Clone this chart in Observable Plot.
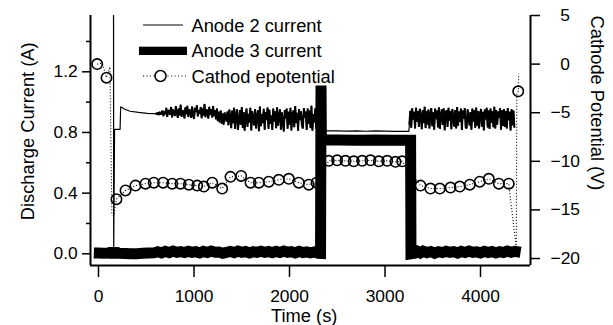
<!DOCTYPE html>
<html>
<head>
<meta charset="utf-8">
<script src="https://cdn.jsdelivr.net/npm/d3@7"></script>
<script src="https://cdn.jsdelivr.net/npm/@observablehq/plot@0.6"></script>
<style>
  html, body { margin: 0; padding: 0; background: #fff; }
  #wrap { position: relative; width: 613px; height: 325px; }
  #legend { position: absolute; left: 0; top: 0; pointer-events: none; }
</style>
</head>
<body>
<div id="wrap"></div>
<script>
// ---------- data ----------
const xTicks = [0, 1000, 2000, 3000, 4000];
const yTicksMajor = [0, 0.4, 0.8, 1.2];
const yTicksMinor = [0.2, 0.6, 1.0, 1.4];
const vTicks = [5, 0, -5, -10, -15, -20];
const xLabel = "Time (s)";
const yLabel = "Discharge Current (A)";
const vLabel = "Cathode Potential (V)";
const legendLabels = ["Anode 2 current", "Anode 3 current", "Cathod epotential"];

// Anode 2 current: explicit points
const anode2Lead = [[157, 2.0], [159, 0.01], [168, 0.82], [226, 0.82], [232, 0.97], [270, 0.955], [330, 0.94], [420, 0.932], [510, 0.926], [590, 0.924]];
const noiseStep = 10;
const noise1Start = 600;
const anode2Noise1 = [
0.926,0.921,0.932,0.915,0.936,0.918,0.929,0.944,0.908,0.940,
0.921,0.962,0.903,0.948,0.935,0.917,0.968,0.899,0.952,0.925,
0.909,0.974,0.931,0.896,0.958,0.912,0.983,0.904,0.945,0.938,
0.893,0.966,0.921,0.976,0.902,0.951,0.944,0.897,0.971,0.915,
0.889,0.962,0.934,0.979,0.906,0.947,0.923,0.968,0.894,0.957,
0.912,0.988,0.901,0.953,0.938,0.892,0.969,0.917,0.952,0.899,
0.974,0.908,0.946,0.887,0.958,0.874,0.937,0.866,0.944,0.858,
0.925,0.852,0.931,0.905];
const noise2Start = 1340;
const anode2Noise2 = [
0.872,0.938,0.848,0.951,0.893,0.829,0.944,0.861,0.962,0.823,
0.915,0.952,0.817,0.876,0.947,0.851,0.968,0.829,0.934,0.811,
0.902,0.958,0.838,0.923,0.866,0.963,0.814,0.941,0.889,0.847,
0.955,0.826,0.908,0.946,0.809,0.971,0.842,0.921,0.861,0.956,
0.818,0.935,0.882,0.964,0.824,0.949,0.858,0.912,0.816,0.958,
0.873,0.939,0.828,0.966,0.845,0.903,0.952,0.819,0.933,0.869,
0.807,0.948,0.892,0.957,0.825,0.936,0.851,0.963,0.813,0.918,
0.944,0.834,0.974,0.862,0.929,0.811,0.955,0.881,0.940,0.847,
0.826,0.961,0.897,0.938,0.817,0.958,0.856,0.945,0.829,0.976,
0.812,0.921,0.866,0.959,0.823,0.942,0.853,0.964,0.835];
const anode2Plateau = [[2335, 0.812], [2400, 0.810], [2500, 0.811], [2600, 0.809], [2700, 0.810], [2800, 0.808], [2900, 0.810], [3000, 0.809], [3100, 0.807], [3200, 0.808], [3250, 0.807]];
const noise3Start = 3255;
const anode2Noise3 = [
0.852,0.943,0.831,0.959,0.884,0.936,0.826,0.963,0.871,0.941,
0.836,0.956,0.907,0.821,0.948,0.862,0.969,0.829,0.939,0.853,
0.951,0.827,0.915,0.961,0.841,0.933,0.818,0.957,0.888,0.945,
0.833,0.966,0.824,0.912,0.952,0.849,0.959,0.815,0.927,0.946,
0.837,0.963,0.876,0.942,0.821,0.955,0.899,0.839,0.948,0.826,
0.967,0.845,0.938,0.869,0.957,0.817,0.944,0.891,0.961,0.832,
0.828,0.953,0.906,0.847,0.935,0.819,0.958,0.873,0.946,0.831,
0.965,0.844,0.941,0.827,0.919,0.955,0.838,0.937,0.814,0.951,
0.886,0.962,0.833,0.945,0.823,0.957,0.864,0.941,0.835,0.969,
0.827,0.948,0.851,0.938,0.897,0.959,0.818,0.946,0.843,0.954,
0.836,0.942,0.826,0.961,0.881,0.936,0.813,0.953,0.848,0.944,
0.832];

// Anode 3 current
const anode3 = [
[-49,0.006],[0,0.005],[50,0.004],[100,0.005],[150,0.005],[154,0.042],[160,-0.03],[166,0.04],[172,0.004],
[220,0.003],[280,0.002],[340,0.0],[400,0.001],[460,0.003],[520,0.005],[580,0.006],
[620,0.014],[660,0.006],[700,0.016],[740,0.008],[780,0.018],[820,0.010],[860,0.015],[900,0.008],[940,0.017],[980,0.010],
[1020,0.014],[1060,0.006],[1100,0.016],[1140,0.009],[1180,0.018],[1220,0.010],[1260,0.012],[1300,0.004],[1340,0.010],[1380,0.016],
[1420,0.008],[1460,0.018],[1500,0.010],[1540,0.015],[1580,0.006],[1620,0.014],[1660,0.009],[1700,0.017],[1740,0.010],[1780,0.015],
[1820,0.007],[1860,0.016],[1900,0.009],[1940,0.018],[1980,0.010],[2020,0.014],[2060,0.006],[2100,0.016],[2140,0.008],[2180,0.013],
[2220,0.006],[2260,0.012],[2300,0.004],[2325,0.003],
[2330,1.11],[2334,0.75],[2500,0.751],[2700,0.749],[2900,0.750],[3100,0.748],[3268,0.749],[3272,0.0],
[3310,0.004],[3340,0.016],[3370,0.006],[3400,0.018],[3440,0.008],[3480,0.015],[3520,0.004],[3560,0.014],[3600,0.008],[3640,0.017],
[3680,0.010],[3720,0.014],[3760,0.005],[3800,0.016],[3840,0.009],[3880,0.018],[3920,0.010],[3960,0.013],[4000,0.006],[4040,0.016],
[4080,0.008],[4120,0.015],[4160,0.006],[4200,0.014],[4240,0.009],[4280,0.018],[4320,0.010],[4360,0.016],[4400,0.012],[4420,0.010]];

// Cathode potential (V): marker points
const cathodeMarks = [
[-14,0.0],[84,-1.4],[188,-13.9],[283,-13.0],[387,-12.5],[492,-12.3],[579,-12.2],[677,-12.2],[772,-12.3],[859,-12.3],
[946,-12.4],[1034,-12.5],[1103,-12.6],[1191,-12.2],[1295,-12.8],[1382,-11.6],[1494,-11.5],[1592,-12.2],[1679,-12.2],[1783,-12.1],
[1888,-11.9],[1993,-11.8],[2097,-12.2],[2202,-12.4],[2283,-12.2],
[2411,-9.95],[2499,-9.90],[2586,-9.95],[2673,-10.0],[2761,-9.95],[2848,-9.90],[2935,-10.0],[3023,-9.95],[3110,-10.05],[3180,-10.0],
[3372,-12.5],[3476,-12.8],[3574,-12.8],[3686,-12.7],[3783,-12.6],[3888,-12.4],[3992,-12.1],[4087,-11.8],[4192,-12.3],[4296,-12.3],
[4395,-2.8]];
// extra points of the dotted trace (no marker)
const cathodeExtra = [[40,0.1],[120,-0.3],[140,-15.4],[160,-15.6],[4375,-19.0],[4380,-3.0],[4400,-1.0]];

// ---------- build tables ----------
const fromGrid = (start, values) => values.map((v, i) => ({t: start + i * noiseStep, a: v, noisy: true}));
const noisyA = [...fromGrid(noise1Start, anode2Noise1), ...fromGrid(noise2Start, anode2Noise2)];
const noisyB = fromGrid(noise3Start, anode2Noise3);
const anode2 = [
  ...anode2Lead.map(([t, a]) => ({t, a})),
  ...noisyA,
  ...anode2Plateau.map(([t, a]) => ({t, a})),
  ...noisyB
];
const anode2Noisy = [...noisyA.map(d => ({...d, seg: "A"})), ...noisyB.map(d => ({...d, seg: "B"}))];
const anode3Data = anode3.map(([t, a]) => ({t, a}));
// right axis: linear mapping from volts onto the current scale
const vZeroA = 1.2507, aPerV = 0.06409;
const vToA = v => vZeroA + aPerV * v;
const marks = cathodeMarks.map(([t, v]) => ({t, a: vToA(v)}));
const trace = [...cathodeMarks, ...cathodeExtra].sort((p, q) => p[0] - q[0]).map(([t, v]) => ({t, a: vToA(v)}));

const FONT = "'Liberation Sans', Arial, Helvetica, sans-serif";
const xDomain = [-83.8, 4523.6];
const yDomain = [-0.0771, 1.5712];

const chart = Plot.plot({
  width: 613, height: 325,
  marginLeft: 90, marginRight: 83, marginTop: 15, marginBottom: 60,
  x: {domain: xDomain},
  y: {domain: yDomain},
  style: {fontFamily: FONT, fontSize: "17.4px", background: "white", color: "black"},
  marks: [
    Plot.line(anode2, {x: "t", y: "a", stroke: "black", strokeWidth: 1.2, clip: true, strokeLinejoin: "bevel", strokeLinecap: "butt"}),
    Plot.line(anode2Noisy, {x: "t", y: "a", z: "seg", stroke: "black", strokeWidth: 2, strokeLinejoin: "bevel", strokeLinecap: "butt"}),
    Plot.line(trace, {x: "t", y: "a", stroke: "black", strokeWidth: 1.1, strokeDasharray: "1,2", strokeLinecap: "butt"}),
    Plot.dot(marks, {x: "t", y: "a", r: 5.2, stroke: "black", fill: "none", strokeWidth: 1.6}),
    Plot.line(anode3Data, {x: "t", y: "a", stroke: "black", strokeWidth: 11, strokeLinejoin: "miter", strokeLinecap: "butt", strokeMiterlimit: 4}),
    Plot.ruleX([xDomain[0]], {stroke: "black", strokeWidth: 2}),
    Plot.ruleX([xDomain[1]], {stroke: "black", strokeWidth: 2}),
    Plot.ruleY([yDomain[0]], {stroke: "black", strokeWidth: 2}),
    Plot.axisX({ticks: xTicks, tickFormat: d3.format("d"), tickSize: 12, tickPadding: 12, fontSize: 17.4, strokeWidth: 1.5, label: null}),
    Plot.axisY({ticks: yTicksMajor, tickFormat: d3.format(".1f"), tickSize: 8, tickPadding: 4.7, fontSize: 17.4, strokeWidth: 1.5, label: null}),
    Plot.axisY({ticks: yTicksMinor, tickFormat: () => "", tickSize: 4, strokeWidth: 1.5, label: null}),
    Plot.axisY({anchor: "right", ticks: vTicks.map(vToA), tickSize: 9, tickPadding: 11, fontSize: 17.4, strokeWidth: 1.5, label: null,
      tickFormat: d => { const v = Math.round((d - vZeroA) / aPerV); return v < 0 ? "\u2212" + (-v) : "\u2007" + v; }}),
    Plot.text([yLabel], {text: d => d, frameAnchor: "left", dx: -62.5, dy: -9.2, rotate: -90, fontSize: 18.3, textAnchor: "middle", lineAnchor: "middle"}),
    Plot.text([vLabel], {text: d => d, frameAnchor: "right", dx: 66, dy: -37.5, rotate: 90, fontSize: 18.3, textAnchor: "middle", lineAnchor: "middle"}),
    Plot.text([xLabel], {text: d => d, frameAnchor: "bottom", dx: -6.3, dy: 50.3, fontSize: 18.3, textAnchor: "middle", lineAnchor: "middle"})
  ]
});
const wrap = document.getElementById("wrap");
wrap.appendChild(chart);

// ---------- legend (inside the plot area, top) ----------
const ns = "http://www.w3.org/2000/svg";
const lg = document.createElementNS(ns, "svg");
lg.setAttribute("id", "legend");
lg.setAttribute("width", 613);
lg.setAttribute("height", 325);
lg.setAttribute("font-family", FONT);
lg.setAttribute("font-size", "18.3");
function el(tag, attrs, text) {
  const e = document.createElementNS(ns, tag);
  for (const k in attrs) e.setAttribute(k, attrs[k]);
  if (text != null) e.textContent = text;
  lg.appendChild(e);
  return e;
}
el("line", {x1: 143, x2: 183, y1: 25, y2: 25, stroke: "black", "stroke-width": 1});
el("text", {x: 191.5, y: 31.5, fill: "black"}, legendLabels[0]);
el("rect", {x: 139, y: 46.7, width: 48, height: 8.3, fill: "black"});
el("text", {x: 191.5, y: 57.3, fill: "black"}, legendLabels[1]);
el("line", {x1: 143, x2: 187, y1: 76, y2: 76, stroke: "black", "stroke-width": 1.1, "stroke-dasharray": "1,2.5"});
el("circle", {cx: 160.5, cy: 76, r: 5.5, fill: "white", stroke: "black", "stroke-width": 1.5});
el("text", {x: 191.5, y: 82.7, fill: "black"}, legendLabels[2]);
wrap.appendChild(lg);
</script>
</body>
</html>
